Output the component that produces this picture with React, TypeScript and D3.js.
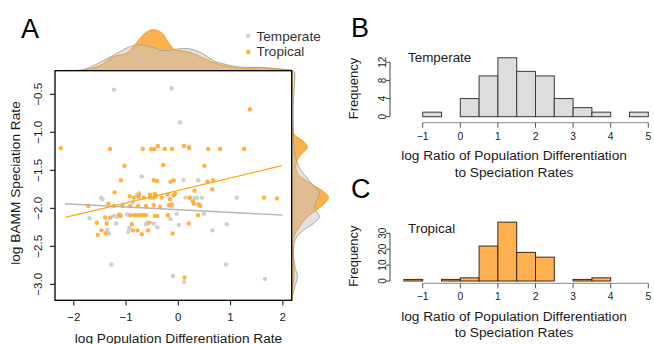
import React from 'react';
import * as d3 from 'd3';

// ---------- Panel A data ----------
const tempX = [-1.23, -0.13, 0.03, 0.20, -0.70, 0.10, 0.38, -1.48, -1.45, -0.79, -0.77, -0.87, -1.70, -1.23, -0.98, -0.95, -0.15, -1.19, -0.62, -0.60, -0.47, -0.40, -1.36, -1.33, -0.96, -0.94, -1.28, -0.10, 0.14, 0.22, 0.31, 0.36, 0.45, 1.12, -0.12, -0.03, 0.49, 0.01, 0.65, 0.93, 0.91, 0.11, 1.66, -0.75, -1.17, -0.20, -1.37];
const tempY = [-0.44, -0.42, -0.87, -1.19, -1.58, -1.63, -1.63, -1.86, -1.88, -1.82, -1.84, -1.92, -2.13, -2.10, -2.08, -2.09, -2.14, -2.20, -2.21, -2.19, -2.20, -2.25, -2.28, -2.33, -2.31, -2.26, -2.74, -2.89, -1.86, -1.86, -1.86, -1.86, -1.86, -1.86, -1.97, -2.07, -2.07, -2.22, -2.29, -2.21, -2.74, -2.97, -2.93, -1.80, -2.11, -2.09, -2.32];

const tropX = [-2.25, -1.31, -0.68, -0.52, -0.46, -0.39, -0.26, -0.12, -1.03, -0.29, -1.10, -0.47, -0.41, -0.15, -0.09, 1.37, 0.11, 0.21, 0.57, 0.80, 1.26, 0.50, 0.56, 0.67,
  -1.22, -0.93, -0.85, -0.76, -0.75, -0.66, -0.54, -0.54, -0.47, -0.45, -0.43, -0.32, -0.20, -0.09,
  -1.72, -1.34, -1.23, -1.07, -0.92, -0.77, -0.62, -0.47, -0.35, -0.18,
  -1.40, -1.30, -1.13, -1.10, -0.91, -0.84, -0.80, -0.75, -0.70, -0.66, -0.62, -0.45, -0.41, -0.20,
  -1.56, -1.37, -0.89, -0.55,
  -1.47, -1.54, -1.39, -0.87, -0.78, -0.70, -0.58, -0.11,
  -0.06, 0.31, 0.65, 0.22, 1.64, 1.89, 0.28, 0.30, 0.39, 0.42, 0.38, 0.20, 0.12, -0.16, -0.13];
const tropY = [-1.21, -1.22, -1.22, -1.22, -1.22, -1.18, -1.22, -1.22, -1.44, -1.43, -1.63, -1.63, -1.64, -1.65, -1.63, -0.70, -1.18, -1.21, -1.22, -1.22, -1.22, -1.44, -1.65, -1.63,
  -1.79, -1.84, -1.86, -1.85, -1.82, -1.86, -1.82, -1.86, -1.86, -1.81, -1.84, -1.86, -1.82, -1.83,
  -1.97, -1.94, -1.97, -1.97, -1.97, -1.97, -1.97, -1.96, -1.98, -1.96,
  -2.12, -2.12, -2.08, -2.10, -2.09, -2.09, -2.09, -2.09, -2.09, -2.09, -2.09, -2.10, -2.10, -2.09,
  -2.19, -2.20, -2.21, -2.19,
  -2.29, -2.35, -2.33, -2.29, -2.29, -2.34, -2.29, -2.33,
  -1.81, -1.77, -1.75, -1.86, -1.86, -1.87, -1.91, -1.94, -1.95, -1.97, -2.09, -2.20, -2.91, -1.88, -1.95];

const tropFitX = [-2.16, 1.98];
const tropFitY = [-2.12, -1.44];
const tempFitX = [-2.17, 2.0];
const tempFitY = [-1.94, -2.09];

const xTicksA = [-2, -1, 0, 1, 2];
const yTicksA = [-0.5, -1.0, -1.5, -2.0, -2.5, -3.0];

// marginal densities (top: along x; right: along y)
const topTempX = [-2.27, -2.14, -1.82, -1.50, -1.18, -0.93, -0.73, -0.48, -0.29, -0.10, 0.10, 0.29, 0.48, 0.67, 0.93, 1.18, 1.57, 1.95, 2.17];
const topTempD = [0, 0.003, 0.010, 0.083, 0.173, 0.240, 0.257, 0.230, 0.200, 0.210, 0.223, 0.210, 0.167, 0.100, 0.060, 0.037, 0.033, 0.017, 0.005];
const topTropX = [-2.27, -2.14, -1.82, -1.50, -1.25, -0.99, -0.83, -0.67, -0.50, -0.32, -0.19, -0.06, 0.10, 0.29, 0.54, 0.80, 1.05, 1.31, 1.57, 1.82, 2.14, 2.17];
const topTropD = [0, 0.002, 0.007, 0.050, 0.140, 0.173, 0.260, 0.360, 0.410, 0.380, 0.280, 0.207, 0.197, 0.170, 0.110, 0.060, 0.033, 0.023, 0.033, 0.020, 0.007, 0.005];

const rightTempY = [-0.19, -0.22, -0.40, -0.71, -1.01, -1.28, -1.45, -1.58, -1.72, -1.80, -1.89, -2.00, -2.11, -2.20, -2.29, -2.39, -2.55, -2.77, -2.90, -3.03, -3.16, -3.21];
const rightTempD = [0.015, 0.030, 0.025, 0.015, 0.017, 0.030, 0.070, 0.140, 0.230, 0.280, 0.250, 0.230, 0.277, 0.217, 0.117, 0.043, 0.017, 0.033, 0.057, 0.033, 0.007, 0.003];
const rightTropY = [-0.19, -0.40, -0.93, -1.04, -1.12, -1.20, -1.28, -1.41, -1.54, -1.67, -1.78, -1.85, -1.93, -2.02, -2.11, -2.24, -2.37, -2.50, -2.77, -2.94, -3.12, -3.21];
const rightTropD = [0.007, 0.003, 0.003, 0.033, 0.117, 0.157, 0.100, 0.043, 0.057, 0.183, 0.317, 0.367, 0.333, 0.250, 0.157, 0.077, 0.023, 0.010, 0.023, 0.020, 0.003, 0.001];

// ---------- Panels B / C data ----------
const binStarts = [-1.5, -1.0, -0.5, 0.0, 0.5, 1.0, 1.5, 2.0, 2.5, 3.0, 3.5, 4.0, 4.5];
const binWidth = 0.5;
const tempCounts = [0, 1, 0, 4, 9, 13, 10, 9, 4, 2, 1, 0, 1];
const tropCounts = [1, 0, 1, 2, 22, 37, 18, 15, 0, 1, 2, 0, 0];
const histXTicks = [-1, 0, 1, 2, 3, 4, 5];
const tempYTicks = [0, 4, 8, 12];
const tropYTicks = [0, 10, 20, 30];

const FONT = 'Liberation Sans, Arial, Helvetica, sans-serif';
const ORANGE = '#FFAE36';
const GRAY = '#CFCFCF';
const TXT = '#1a1a1a';

const fmt = (v: number) => (v < 0 ? '\u2212' : '') + Math.abs(v).toString();
const fmt1 = (v: number) => (v < 0 ? '\u2212' : '') + Math.abs(v).toFixed(1);

function Histogram({ counts, yTicks, yMax, y0, yTop, fill, stroke, label, letter, letterY, axisY, labelY }: any) {
  const x = d3.scaleLinear().domain([-1, 5]).range([422.7, 648.3]);
  const y = d3.scaleLinear().domain([0, yMax]).range([y0, yTop]);
  return (
    <g>
      <text x={351} y={letterY} fontFamily={FONT} fontSize={27} fill="#000">{letter}</text>
      {binStarts.map((b, i) => (
        <rect key={i} x={x(b)} y={y(counts[i])} width={x(b + binWidth) - x(b)} height={y(0) - y(counts[i])}
          fill={fill} stroke={stroke} strokeWidth={1} />
      ))}
      {/* x axis */}
      <line x1={x(histXTicks[0])} x2={x(histXTicks[histXTicks.length - 1])} y1={axisY} y2={axisY} stroke="#888" strokeWidth={1} />
      {histXTicks.map((t) => (
        <g key={t}>
          <line x1={x(t)} x2={x(t)} y1={axisY} y2={axisY + 5} stroke="#555" strokeWidth={1} />
          <text x={x(t)} y={axisY + 16.8} textAnchor="middle" fontFamily={FONT} fontSize={10.3} fill={TXT}>{fmt(t)}</text>
        </g>
      ))}
      {/* y axis */}
      <line x1={390} x2={390} y1={y(yTicks[0])} y2={y(yTicks[yTicks.length - 1])} stroke="#444" strokeWidth={1} />
      {yTicks.map((t: number) => (
        <g key={t}>
          <line x1={386} x2={390} y1={y(t)} y2={y(t)} stroke="#444" strokeWidth={1} />
          <text transform={`translate(385.5,${y(t)}) rotate(-90)`} textAnchor="middle" fontFamily={FONT} fontSize={10} fill={TXT}>{t}</text>
        </g>
      ))}
      <text transform={`translate(357.5,${(y0 + yTop) / 2 - 1}) rotate(-90)`} textAnchor="middle" fontFamily={FONT} fontSize={13} fill={TXT}>Frequency</text>
      <text x={408} y={labelY} fontFamily={FONT} fontSize={13.4} fill={TXT}>{label}</text>
      <text x={514} y={axisY + 37.5} textAnchor="middle" fontFamily={FONT} fontSize={13.7} fill={TXT}>log Ratio of Population Differentiation</text>
      <text x={514} y={axisY + 54} textAnchor="middle" fontFamily={FONT} fontSize={13.7} fill={TXT}>to Speciation Rates</text>
    </g>
  );
}

export default function App() {
  const L = 55, R = 291.7, T = 70.7, B = 300.3;
  const x = d3.scaleLinear().domain([-2.36, 2.17]).range([L, R]);
  const y = d3.scaleLinear().domain([-3.21, -0.19]).range([B, T]);
  const hTop = d3.scaleLinear().domain([0, 0.45]).range([0, 45]);
  const hRight = d3.scaleLinear().domain([0, 0.45]).range([0, 45]);

  const mkTop = (xs: number[], ds: number[]) =>
    d3.area<number>()
      .x((_, i) => x(xs[i]))
      .y0(T)
      .y1((_, i) => T - hTop(ds[i]))
      .curve(d3.curveCatmullRom)(ds) as string;
  const mkTopLine = (xs: number[], ds: number[]) =>
    d3.line<number>()
      .x((_, i) => x(xs[i]))
      .y((_, i) => T - hTop(ds[i]))
      .curve(d3.curveCatmullRom)(ds) as string;
  const mkRight = (ys: number[], ds: number[]) =>
    d3.area<number>()
      .y((_, i) => y(ys[i]))
      .x0(R)
      .x1((_, i) => R + hRight(ds[i]))
      .curve(d3.curveCatmullRom)(ds) as string;
  const mkRightLine = (ys: number[], ds: number[]) =>
    d3.line<number>()
      .y((_, i) => y(ys[i]))
      .x((_, i) => R + hRight(ds[i]))
      .curve(d3.curveCatmullRom)(ds) as string;

  const fitLine = (xs: number[], ys: number[]) =>
    d3.line<number>().x((d) => x(d)).y((_, i) => y(ys[i]))(xs) as string;

  return (
    <svg width={654} height={344} style={{ position: 'absolute', left: 0, top: 0, background: '#fff' }}>
      <rect x={0} y={0} width={654} height={344} fill="#fff" />
      {/* Panel A */}
      <text x={21} y={38.3} fontFamily={FONT} fontSize={27} fill="#000">A</text>

      {/* marginal densities */}
      <path d={mkTop(topTropX, topTropD)} fill="#FDB04E" stroke="none" />
      <path d={mkTop(topTempX, topTempD)} fill="#C9C9C9" fillOpacity={0.55} stroke="none" />
      <path d={mkTopLine(topTempX, topTempD)} fill="none" stroke="#a0a0a0" strokeWidth={0.9} />
      <path d={mkTopLine(topTropX, topTropD)} fill="none" stroke="#E69A25" strokeWidth={0.9} />

      <path d={mkRight(rightTropY, rightTropD)} fill="#FDB04E" stroke="none" />
      <path d={mkRight(rightTempY, rightTempD)} fill="#C9C9C9" fillOpacity={0.55} stroke="none" />
      <path d={mkRightLine(rightTempY, rightTempD)} fill="none" stroke="#a0a0a0" strokeWidth={0.9} />
      <path d={mkRightLine(rightTropY, rightTropD)} fill="none" stroke="#E69A25" strokeWidth={0.9} />

      {/* legend */}
      <circle cx={248.3} cy={35.7} r={2.3} fill={GRAY} />
      <circle cx={248.3} cy={52} r={2.3} fill={ORANGE} />
      <text x={256.5} y={40.7} fontFamily={FONT} fontSize={13.6} fill="#333">Temperate</text>
      <text x={256.5} y={56.3} fontFamily={FONT} fontSize={13.6} fill="#333">Tropical</text>

      {/* points */}
      <rect x={L} y={T} width={R - L} height={B - T} fill="#fff" />
      {tempX.map((v, i) => (
        <circle key={'t' + i} cx={x(v)} cy={y(tempY[i])} r={2.2} fill={GRAY} />
      ))}
      {tropX.map((v, i) => (
        <circle key={'p' + i} cx={x(v)} cy={y(tropY[i])} r={2.2} fill={ORANGE} fillOpacity={0.95} />
      ))}
      <path d={fitLine(tempFitX, tempFitY)} stroke="#B5B5B5" strokeWidth={1.3} fill="none" />
      <path d={fitLine(tropFitX, tropFitY)} stroke="#FFA51A" strokeWidth={1.3} fill="none" />

      {/* box */}
      <rect x={L} y={T} width={R - L} height={B - T} fill="none" stroke="#000" strokeWidth={1.3} />

      {/* axes A */}
      {xTicksA.map((t) => (
        <g key={t}>
          <line x1={x(t)} x2={x(t)} y1={B} y2={B + 5} stroke="#000" strokeWidth={1} />
          <text x={x(t)} y={321.4} textAnchor="middle" fontFamily={FONT} fontSize={11.5} fill={TXT}>{fmt(t)}</text>
        </g>
      ))}
      {yTicksA.map((t) => (
        <g key={t}>
          <line x1={L - 5} x2={L} y1={y(t)} y2={y(t)} stroke="#000" strokeWidth={1} />
          <text transform={`translate(42.3,${y(t)}) rotate(-90)`} textAnchor="middle" fontFamily={FONT} fontSize={11.5} fill={TXT}>{fmt1(t)}</text>
        </g>
      ))}
      <text x={178.5} y={342.5} textAnchor="middle" fontFamily={FONT} fontSize={13.7} fill={TXT}>log Population Differentiation Rate</text>
      <text transform={`translate(19.5,183) rotate(-90)`} textAnchor="middle" fontFamily={FONT} fontSize={13.7} fill={TXT}>log BAMM Speciation Rate</text>

      {/* Panel B */}
      <Histogram counts={tempCounts} yTicks={tempYTicks} yMax={12} y0={116.7} yTop={62.3}
        fill="#DDDDDD" stroke="#3a3a3a" label="Temperate" letter="B" letterY={36.7} axisY={122.7} labelY={62.3} />
      {/* Panel C */}
      <Histogram counts={tropCounts} yTicks={tropYTicks} yMax={30} y0={281} yTop={233.3}
        fill="#FFB152" stroke="#3d2a12" label="Tropical" letter="C" letterY={198} axisY={283.3} labelY={233.3} />
    </svg>
  );
}
